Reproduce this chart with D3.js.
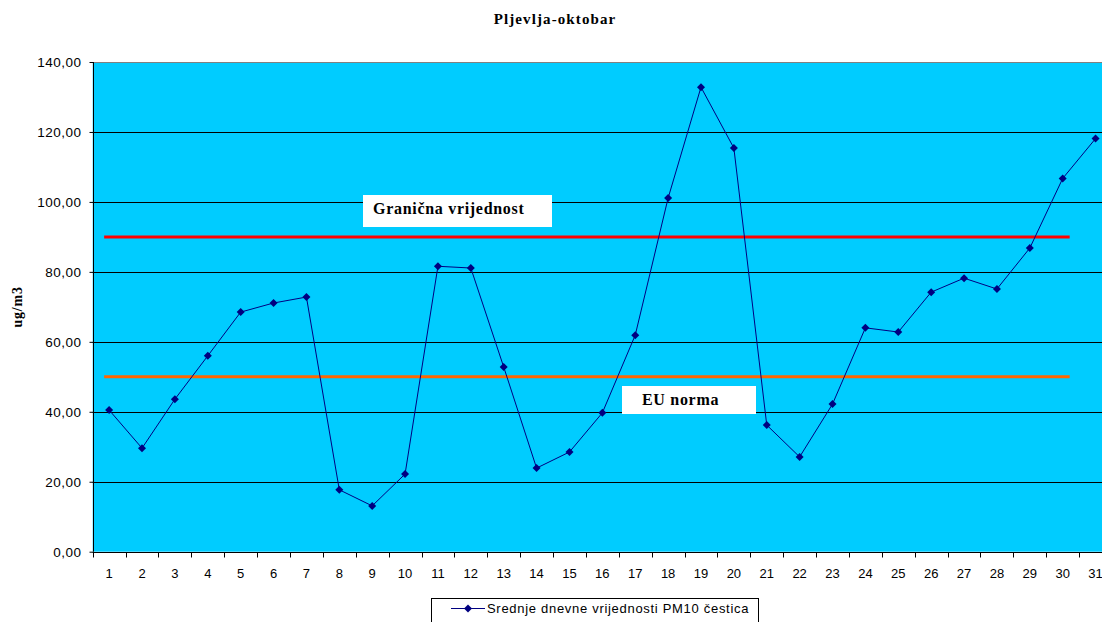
<!DOCTYPE html>
<html>
<head>
<meta charset="utf-8">
<script src="https://cdn.jsdelivr.net/npm/d3@7"></script>
<style>
  html, body { margin: 0; padding: 0; background: #ffffff; }
  svg { display: block; }
</style>
</head>
<body>
<svg id="chart" width="1102" height="622"></svg>
<script>
// Daily PM10 means, Pljevlja, October
const days = d3.range(1, 32).map(String);
const pm10 = [40.5, 29.6, 43.6, 56.0, 68.5, 71.1, 72.8, 17.7, 13.1, 22.2,
              81.6, 81.1, 52.8, 23.9, 28.5, 39.7, 61.9, 101.1, 132.8, 115.4,
              36.2, 27.1, 42.2, 64.0, 62.8, 74.2, 78.2, 75.1, 86.8, 106.7, 118.1];
const yTicks = [0, 20, 40, 60, 80, 100, 120, 140];
const limitValue = 90;   // Granična vrijednost
const euValue = 50;      // EU norma
const titleText = "Pljevlja-oktobar";
const yLabel = "ug/m3";
const legendText = "Srednje dnevne vrijednosti PM10 čestica";

const svg = d3.select("#chart");
const plot = { left: 92.7, right: 1112, top: 62, bottom: 551.7 };

const x = d3.scaleBand().domain(days).range([plot.left, plot.right]);
const y = d3.scaleLinear().domain([0, 140]).range([plot.bottom, plot.top]);
const cx = d => x(d) + x.bandwidth() / 2;

// plot background
svg.append("rect")
  .attr("x", plot.left).attr("y", plot.top)
  .attr("width", plot.right - plot.left).attr("height", plot.bottom - plot.top)
  .attr("fill", "#00ccff");

// horizontal gridlines
svg.append("g").selectAll("line").data(yTicks.filter(v => v > 0))
  .join("line")
  .attr("x1", plot.left).attr("x2", plot.right)
  .attr("y1", d => Math.round(y(d)) + 0.5).attr("y2", d => Math.round(y(d)) + 0.5)
  .attr("stroke", d => d === 140 ? "#808080" : "#000000")
  .attr("stroke-width", 1);

// y axis
const yAxis = d3.axisLeft(y).tickValues(yTicks).tickSize(4).tickPadding(8)
  .tickFormat(d => d3.format(".2f")(d).replace(".", ","));
const gy = svg.append("g").attr("transform", `translate(${Math.round(plot.left) + 0.5},0)`).call(yAxis);
gy.select(".domain").attr("stroke", "#000").attr("d", `M0,${plot.top}V${plot.bottom}`);
gy.selectAll(".tick line").attr("stroke", "#000");
gy.selectAll(".tick text").attr("font-family", "Liberation Sans, Arial, sans-serif")
  .attr("font-size", 13.5).attr("letter-spacing", 0.5).attr("fill", "#000");

// x axis: ticks sit on band boundaries, labels centred in bands
const gx = svg.append("g").attr("transform", `translate(0,${Math.round(plot.bottom) + 0.5})`);
gx.append("line").attr("x1", plot.left).attr("x2", plot.right).attr("stroke", "#000");
gx.selectAll("line.tk").data(days).join("line").attr("class", "tk")
  .attr("x1", d => Math.round(x(d)) + 0.5).attr("x2", d => Math.round(x(d)) + 0.5)
  .attr("y1", 0).attr("y2", 5).attr("stroke", "#000");
gx.selectAll("text").data(days).join("text")
  .attr("x", d => cx(d)).attr("y", 25)
  .attr("text-anchor", "middle")
  .attr("font-family", "Liberation Sans, Arial, sans-serif")
  .attr("font-size", 13).attr("fill", "#000")
  .text(d => d);

// reference lines
const refStart = cx(days[0]) - 5;
const refEnd = cx(days[29]) + 7;
svg.append("line")
  .attr("x1", refStart).attr("x2", refEnd)
  .attr("y1", y(limitValue)).attr("y2", y(limitValue))
  .attr("stroke", "#ff0000").attr("stroke-width", 3);
svg.append("line")
  .attr("x1", refStart).attr("x2", refEnd)
  .attr("y1", y(euValue)).attr("y2", y(euValue))
  .attr("stroke", "#ff6600").attr("stroke-width", 3);

// data line
svg.append("path")
  .datum(pm10)
  .attr("fill", "none").attr("stroke", "#000080").attr("stroke-width", 1)
  .attr("d", d3.line().x((d, i) => cx(days[i])).y(d => y(d)));

// square diamond marker
const diamond = "M0,-4L4,0L0,4L-4,0Z";
svg.append("g").selectAll("path").data(pm10).join("path")
  .attr("transform", (d, i) => `translate(${cx(days[i])},${y(d)})`)
  .attr("d", diamond)
  .attr("fill", "#000080");

// annotation boxes
function note(text, bx, by, bw, bh, tx, ty) {
  svg.append("rect").attr("x", bx).attr("y", by).attr("width", bw).attr("height", bh).attr("fill", "#fff");
  svg.append("text").attr("x", tx).attr("y", ty)
    .attr("font-family", "Liberation Serif, Times New Roman, serif")
    .attr("font-weight", "bold").attr("font-size", 16).attr("letter-spacing", 0.7)
    .attr("fill", "#000")
    .text(text);
}
note("Granična vrijednost", 363, 195, 189, 32, 373, 214);
note("EU norma", 622, 386, 134, 28, 642, 405);

// title
svg.append("text").attr("x", 555).attr("y", 24).attr("text-anchor", "middle")
  .attr("font-family", "Liberation Serif, Times New Roman, serif")
  .attr("font-weight", "bold").attr("font-size", 15).attr("letter-spacing", 1.1)
  .text(titleText);

// y axis label
svg.append("text")
  .attr("transform", `translate(22,${(plot.top + plot.bottom) / 2}) rotate(-90)`)
  .attr("text-anchor", "middle")
  .attr("font-family", "Liberation Serif, Times New Roman, serif")
  .attr("font-weight", "bold").attr("font-size", 14).attr("letter-spacing", 0.8)
  .text(yLabel);

// legend
const lg = svg.append("g");
lg.append("rect").attr("x", 431.5).attr("y", 598.5).attr("width", 327).attr("height", 30)
  .attr("fill", "#fff").attr("stroke", "#000");
lg.append("line").attr("x1", 451).attr("x2", 485).attr("y1", 608.5).attr("y2", 608.5)
  .attr("stroke", "#000080");
lg.append("path").attr("transform", "translate(468,608.5)").attr("d", diamond).attr("fill", "#000080");
lg.append("text").attr("x", 487).attr("y", 613)
  .attr("font-family", "Liberation Sans, Arial, sans-serif")
  .attr("font-size", 13).attr("letter-spacing", 0.7).text(legendText);
</script>
</body>
</html>
